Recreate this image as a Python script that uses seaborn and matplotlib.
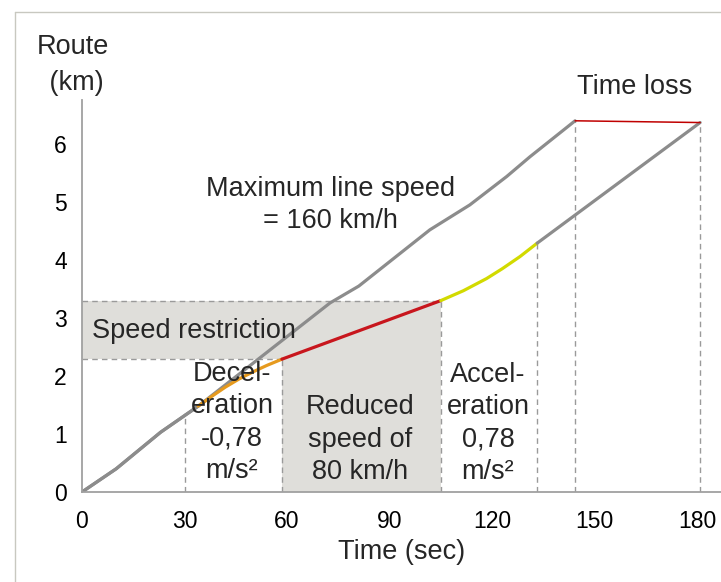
import numpy as np
import pandas as pd
import matplotlib
matplotlib.use('Agg')
import matplotlib.pyplot as plt
from matplotlib.patches import Rectangle
from matplotlib.lines import Line2D
import seaborn as sns

# Daten: Weg-Zeit-Linien (Zeit in s, Weg in km)
max_t = [0, 10, 23, 34, 72.6, 81, 101.8, 113.5, 124.3, 131.1, 140.9, 144.3]
max_km = [0, 0.40, 1.03, 1.48, 3.26, 3.55, 4.52, 4.95, 5.44, 5.78, 6.24, 6.40]

pre_t = [0, 10, 23, 34]
pre_km = [0, 0.40, 1.03, 1.48]
decel_t = [34, 38, 42, 46, 50, 54, 58.5]
decel_km = [1.48, 1.65, 1.81, 1.95, 2.07, 2.18, 2.29]
reduced_t = [58.5, 105]
reduced_km = [2.29, 3.30]
accel_t = [105, 111.6, 118.4, 123, 128.2, 133.2]
accel_km = [3.30, 3.47, 3.68, 3.85, 4.06, 4.29]
post_t = [133.2, 180.9]
post_km = [4.29, 6.37]
loss_t = [144.3, 180.9]
loss_km = [6.40, 6.37]

# Langsamfahrstelle
restr_km = [2.29, 3.30]
restr_t = [58.5, 105]

# senkrechte Hilfslinien
guide_t = [30, 133.2, 144.3, 180.9]
guide_km = [1.36, 4.29, 6.40, 6.37]

xticks = [0, 30, 60, 90, 120, 150, 180]
yticks = [0, 1, 2, 3, 4, 5, 6]

sns.set_theme(style='white')
plt.rcParams['font.family'] = ['Liberation Sans', 'DejaVu Sans']
plt.rcParams['font.size'] = 16

fig = plt.figure(figsize=(7.21, 5.82), dpi=100)
ax = fig.add_axes([82/721, 90/582, (721-82)/721, (492-100)/582])
ax.set_xlim(0, (721-82)/3.417)
ax.set_ylim(0, (492-100)/58)

gray = '#8c8c8c'
fill = '#dfdeda'
dash = '#9a9a9a'
fs = 19.5
ls_txt = 1.32

# graue Flaechen
ax.add_patch(Rectangle((0, restr_km[0]), restr_t[1], restr_km[1]-restr_km[0],
                       facecolor=fill, edgecolor='none', zorder=0))
ax.add_patch(Rectangle((restr_t[0], 0), restr_t[1]-restr_t[0], restr_km[0],
                       facecolor=fill, edgecolor='none', zorder=0))
# gestrichelte Raender
kw = dict(color=dash, lw=1, ls=(0, (4, 3)), zorder=1)
ax.hlines([restr_km[1], restr_km[0]], [0, 0], [restr_t[1], restr_t[0]], **kw)
ax.vlines([restr_t[0], restr_t[1]], 0, [restr_km[0], restr_km[1]], **kw)
ax.vlines(guide_t, 0, guide_km, **kw)

lw = 2.3
sns.lineplot(x=max_t, y=max_km, ax=ax, color=gray, lw=lw, estimator=None, sort=False)
sns.lineplot(x=pre_t, y=pre_km, ax=ax, color=gray, lw=lw, estimator=None, sort=False)
sns.lineplot(x=decel_t, y=decel_km, ax=ax, color='#e69a1e', lw=lw, estimator=None, sort=False)
sns.lineplot(x=reduced_t, y=reduced_km, ax=ax, color='#c8161d', lw=lw, estimator=None, sort=False)
sns.lineplot(x=accel_t, y=accel_km, ax=ax, color='#d2da00', lw=lw, estimator=None, sort=False)
sns.lineplot(x=post_t, y=post_km, ax=ax, color=gray, lw=lw, estimator=None, sort=False)
sns.lineplot(x=loss_t, y=loss_km, ax=ax, color='#c00000', lw=1.1, estimator=None, sort=False)

ax.set_xticks(xticks)
ax.set_yticks(yticks)
ax.tick_params(axis='both', colors='black', labelsize=16.5, length=5, width=1, direction='out',
               color=dash)
ax.tick_params(axis='x', pad=8)
ax.tick_params(axis='y', pad=6)
for s in ['top', 'right']:
    ax.spines[s].set_visible(False)
for s in ['left', 'bottom']:
    ax.spines[s].set_color('#a0a0a0')
    ax.spines[s].set_linewidth(1.3)

ax.set_xlabel('Time (sec)', fontsize=fs, labelpad=4)
ax.text(-2.6, 7.37, 'Route\n (km)', ha='center', va='center', fontsize=fs,
        linespacing=1.5, clip_on=False)
ax.text(161.8, 6.98, 'Time loss', ha='center', va='center', fontsize=fs, clip_on=False)
ax.text(72.6, 4.95, 'Maximum line speed\n= 160 km/h', ha='center', va='center',
        fontsize=fs, linespacing=ls_txt)
ax.text(2.9, 2.78, 'Speed restriction', ha='left', va='center', fontsize=fs)
ax.text(43.9, 1.2, 'Decel-\neration\n-0,78\nm/s²', ha='center', va='center',
        fontsize=fs, linespacing=ls_txt)
ax.text(81.4, 0.9, 'Reduced\nspeed of\n80 km/h', ha='center', va='center',
        fontsize=fs, linespacing=ls_txt)
ax.text(118.8, 1.18, 'Accel-\neration\n0,78\nm/s²', ha='center', va='center',
        fontsize=fs, linespacing=ls_txt)

# Rahmen
fig.add_artist(Line2D([15/721, 15/721], [0, 1-12/582], color='#c8c8c0', lw=1))
fig.add_artist(Line2D([15/721, 1], [1-12/582, 1-12/582], color='#c8c8c0', lw=1))

fig.savefig('out.png', dpi=100)
